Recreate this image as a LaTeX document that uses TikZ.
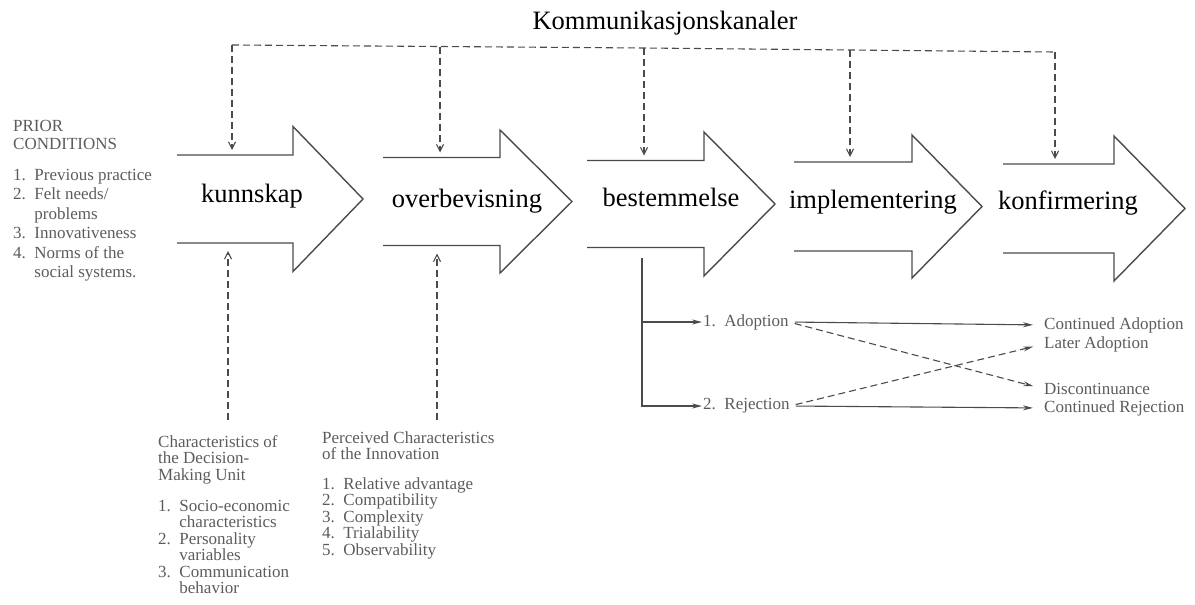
\documentclass[tikz,border=0pt]{standalone}
\usepackage{fontspec}
\setmainfont{Liberation Serif}
\usetikzlibrary{arrows.meta}
\definecolor{ink}{RGB}{75,75,75}
\definecolor{scantext}{RGB}{92,92,92}
\newcommand{\procarrow}[6]{%
  \draw[outline] (#1,#4-#5) -- (#2,#4-#5) -- (#2,#4-#6) -- (#3,#4) -- (#2,#4+#6) -- (#2,#4+#5) -- (#1,#4+#5);}
\begin{document}
\begin{tikzpicture}[x=1pt,y=-1pt,
  outline/.style={draw=ink, line width=1.4pt, line join=miter},
  dashline/.style={draw=ink, line width=1.1pt, dash pattern=on 7pt off 4pt},
  solidline/.style={draw=ink, line width=1.1pt},
  vtip/.style={-{Straight Barb[length=7pt,width=7pt]}},
  htip/.style={-{Stealth[length=10pt,width=5pt]}},
  stage/.style={font=\fontsize{26.5}{30}\selectfont, text=black, inner sep=0pt, anchor=base},
  scan/.style={font=\fontsize{17}{19.5}\selectfont, text=scantext, inner sep=0pt, anchor=base west},
  outcome/.style={font=\fontsize{17}{19.5}\selectfont, text=scantext, inner sep=0pt, anchor=west}]
\useasboundingbox (0,0) rectangle (1195,605);

% big process arrows
\procarrow{177}{293}{363}{199}{44}{72.5}
\procarrow{383}{500}{572}{201.5}{44}{71.5}
\procarrow{587}{704}{775}{204}{43.5}{72}
\procarrow{794}{912}{982}{206.5}{44.5}{71.5}
\procarrow{1003}{1114}{1185}{208.5}{44.5}{72.5}

% stage labels
\node[stage] (kun) at (252,202) {kunnskap};
\node[stage] (ove) at (467,207) {overbevisning};
\node[stage] (bes) at (671,206) {bestemmelse};
\node[stage] (imp) at (873,208) {implementering};
\node[stage] (kon) at (1068,209) {konfirmering};
\node[stage] (kom) at (665,30) {Kommunikasjonskanaler};

% communication channels
\coordinate (t1) at (232,45);
\coordinate (t2) at (440,46.5);
\coordinate (t3) at (644,48);
\coordinate (t4) at (850,50);
\coordinate (t5) at (1055,52);
\coordinate (a1t) at (232,155);
\coordinate (a2t) at (440,157.5);
\coordinate (a3t) at (644,160.5);
\coordinate (a4t) at (850,162);
\coordinate (a5t) at (1055,164);
\draw[dashline] (t1) -- (t2) -- (t3) -- (t4) -- (t5);
\foreach \k in {1,...,5}{\draw[dashline, vtip, shorten >=5pt] (t\k) -- (a\k t);}

% characteristics influences
\coordinate (b1) at (228,420);
\coordinate (b2) at (437,420);
\coordinate (a1b) at (228,243);
\coordinate (a2b) at (437,245.5);
\draw[dashline, vtip, shorten >=8pt] (b1) -- (a1b);
\draw[dashline, vtip, shorten >=8pt] (b2) -- (a2b);

% decision outcomes
\node[outcome] (adopt) at (703,322) {1.\ \ Adoption};
\node[outcome] (rej) at (703,406) {2.\ \ Rejection};
\coordinate (d0) at (642,258);
\coordinate (d1) at (642,322);
\draw[solidline, htip, shorten >=1pt] (d0) |- (rej.west);
\draw[solidline, htip, shorten >=1pt] (d1) -- (adopt.west);

\node[outcome] (contA) at (1044,325) {Continued Adoption};
\node[outcome] (laterA) at (1044,344) {Later Adoption};
\node[outcome] (disc) at (1044,389) {Discontinuance};
\node[outcome] (contR) at (1044,408) {Continued Rejection};
\draw[solidline, htip, shorten <=6pt, shorten >=11pt] (adopt.east) -- (contA.west);
\draw[dashline, htip, shorten <=6pt, shorten >=11pt] (adopt.east) -- (disc.west);
\draw[solidline, htip, shorten <=6pt, shorten >=11pt] (rej.east) -- (contR.west);
\draw[dashline, htip, shorten <=6pt, shorten >=11pt] (rej.east) -- (laterA.west);

% prior conditions
\node[scan] (pc1) at (13,131) {PRIOR};
\node[scan] (pc2) at (13,149) {CONDITIONS};
\node[scan] (pc3) at (13,180) {1.\ \ Previous practice};
\node[scan] (pc4) at (13,199.5) {2.\ \ Felt needs/};
\node[scan] (pc5) at (13,219) {\phantom{2.\ \ }problems};
\node[scan] (pc6) at (13,238.5) {3.\ \ Innovativeness};
\node[scan] (pc7) at (13,258) {4.\ \ Norms of the};
\node[scan] (pc8) at (13,277.5) {\phantom{4.\ \ }social systems.};

% decision-making unit
\node[scan] (du1) at (158,447) {Characteristics of};
\node[scan] (du2) at (158,463.5) {the Decision-};
\node[scan] (du3) at (158,480) {Making Unit};
\node[scan] (du4) at (158,511) {1.\ \ Socio-economic};
\node[scan] (du5) at (158,527.5) {\phantom{1.\ \ }characteristics};
\node[scan] (du6) at (158,544) {2.\ \ Personality};
\node[scan] (du7) at (158,560.5) {\phantom{2.\ \ }variables};
\node[scan] (du8) at (158,577) {3.\ \ Communication};
\node[scan] (du9) at (158,593.5) {\phantom{3.\ \ }behavior};

% innovation characteristics
\node[scan] (ic1) at (322,443) {Perceived Characteristics};
\node[scan] (ic2) at (322,459.5) {of the Innovation};
\node[scan] (ic3) at (322,489) {1.\ \ Relative advantage};
\node[scan] (ic4) at (322,505.5) {2.\ \ Compatibility};
\node[scan] (ic5) at (322,522) {3.\ \ Complexity};
\node[scan] (ic6) at (322,538.5) {4.\ \ Trialability};
\node[scan] (ic7) at (322,555) {5.\ \ Observability};
\end{tikzpicture}
\end{document}
